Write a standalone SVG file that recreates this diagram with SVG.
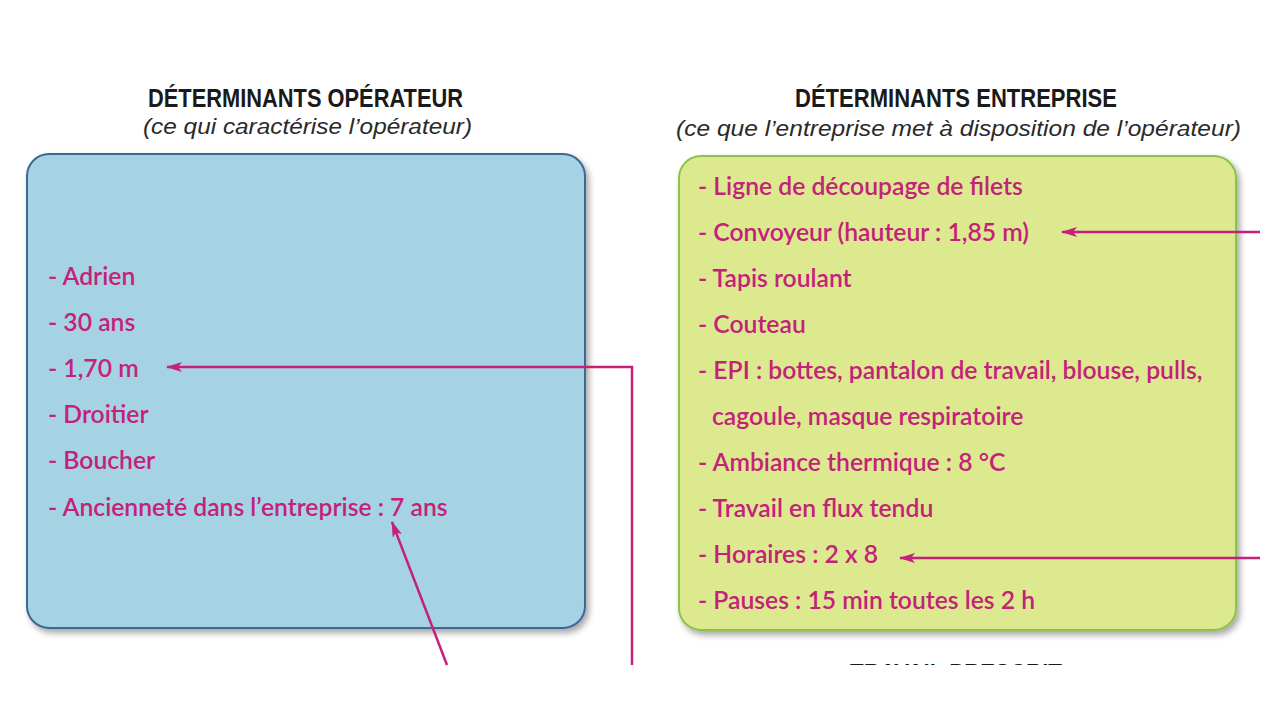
<svg xmlns="http://www.w3.org/2000/svg" width="1280" height="720" viewBox="0 0 1280 720">
<style>
.title{font-family:"Liberation Sans",Arial,sans-serif;font-weight:bold;font-size:26px;fill:#1a1a1a;text-anchor:middle}
.sub{font-family:"Liberation Sans",Arial,sans-serif;font-style:italic;font-size:22px;fill:#2a2a2a;text-anchor:middle}
.item{font-family:Lato,"Open Sans",sans-serif;font-weight:600;font-size:24.7px;fill:#c4217a}
.conn{fill:none;stroke:#c4217a;stroke-width:2.5}
</style>
<defs>
<filter id="sh" x="-5%" y="-5%" width="115%" height="115%">
<feDropShadow dx="3" dy="4" stdDeviation="3" flood-color="#000" flood-opacity="0.35"/>
</filter>
<marker id="ah" viewBox="0 0 16 10" refX="15" refY="5" markerWidth="16" markerHeight="10" markerUnits="userSpaceOnUse" orient="auto">
<path d="M0,0 L16,5 L0,10 L4,5 Z" fill="#c4217a"/>
</marker>
<clipPath id="cut"><rect x="0" y="0" width="1280" height="665"/></clipPath>
</defs>
<rect width="1280" height="720" fill="#ffffff"/>

<g id="head-operateur">
<text class="title" x="305.5" y="107" textLength="315" lengthAdjust="spacingAndGlyphs">DÉTERMINANTS OPÉRATEUR</text>
<text class="sub" x="307.5" y="134" textLength="329" lengthAdjust="spacingAndGlyphs">(ce qui caractérise l’opérateur)</text>
</g>
<g id="head-entreprise">
<text class="title" x="956" y="107" textLength="322" lengthAdjust="spacingAndGlyphs">DÉTERMINANTS ENTREPRISE</text>
<text class="sub" x="958.5" y="136" textLength="565" lengthAdjust="spacingAndGlyphs">(ce que l’entreprise met à disposition de l’opérateur)</text>
</g>

<g id="box-operateur">
<rect x="27" y="154" width="558" height="474" rx="22" fill="#a6d3e3" stroke="#3b6797" stroke-width="2" filter="url(#sh)"/>
<text class="item" x="48" y="285">- Adrien</text>
<text class="item" x="48" y="331">- 30 ans</text>
<text class="item" x="48" y="377">- 1,70 m</text>
<text class="item" x="48" y="423">- Droitier</text>
<text class="item" x="48" y="469">- Boucher</text>
<text class="item" x="48" y="516">- Ancienneté dans l’entreprise : 7 ans</text>
</g>

<g id="box-entreprise">
<rect x="679" y="156" width="557" height="474" rx="22" fill="#dde98f" stroke="#8cc34c" stroke-width="2" filter="url(#sh)"/>
<text class="item" x="698" y="195">- Ligne de découpage de filets</text>
<text class="item" x="698" y="241">- Convoyeur (hauteur : 1,85 m)</text>
<text class="item" x="698" y="287">- Tapis roulant</text>
<text class="item" x="698" y="333">- Couteau</text>
<text class="item" x="698" y="379">- EPI : bottes, pantalon de travail, blouse, pulls,</text>
<text class="item" x="712" y="425">cagoule, masque respiratoire</text>
<text class="item" x="698" y="471">- Ambiance thermique : 8 °C</text>
<text class="item" x="698" y="517">- Travail en flux tendu</text>
<text class="item" x="698" y="563">- Horaires : 2 x 8</text>
<text class="item" x="698" y="609">- Pauses : 15 min toutes les 2 h</text>
</g>

<g id="head-prescrit" clip-path="url(#cut)">
<text class="title" x="956" y="682" textLength="212" lengthAdjust="spacingAndGlyphs" fill="#444">TRAVAIL PRESCRIT</text>
</g>

<g id="connectors">
<path class="conn" d="M1260,232 L1062,232" marker-end="url(#ah)"/>
<path class="conn" d="M1260,558 L900,558" marker-end="url(#ah)"/>
<path class="conn" d="M632,665 L632,367 L167,367" marker-end="url(#ah)"/>
<path class="conn" d="M447,665 L392,522" marker-end="url(#ah)"/>
</g>
</svg>
